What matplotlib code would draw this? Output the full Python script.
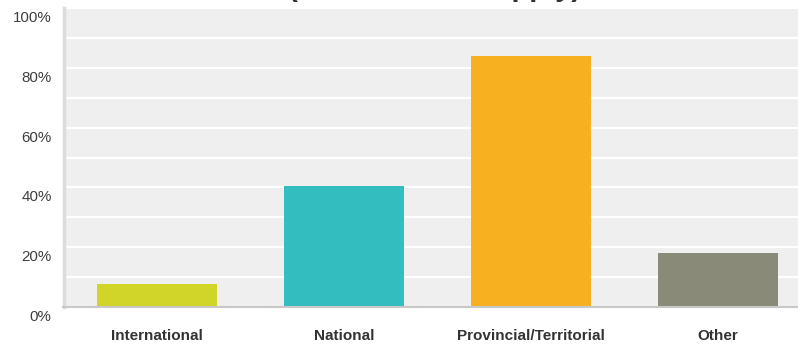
import matplotlib
matplotlib.use("Agg")
import matplotlib.pyplot as plt
import matplotlib.transforms as mtransforms
import numpy as np

categories = ["International", "National", "Provincial/Territorial", "Other"]
values = [7.7, 40.4, 83.8, 18.1]
colors = ["#D0D527", "#33BDBF", "#F6B020", "#8A8A78"]
yticks = [0, 20, 40, 60, 80, 100]
ytick_labels = ["0%", "20%", "40%", "60%", "80%", "100%"]
title = "(Check all that apply)"

plt.rcParams['font.family'] = ['Liberation Sans', 'DejaVu Sans']

fig = plt.figure(figsize=(7.98, 3.45), dpi=100)
ax = fig.add_axes([63.5 / 798, 38 / 345, 734.5 / 798, 299 / 345])
ax.set_facecolor("#EFEFEF")

x = np.arange(len(categories))
ax.bar(x, values, width=0.642, color=colors, zorder=3)

ax.set_xlim(-0.5, 3.428)
ax.set_ylim(0, 100)
ax.set_yticks(yticks)
ax.set_yticklabels(ytick_labels, fontsize=10.9, color="#3F3F3F")
ax.set_yticks(np.arange(10, 100, 20), minor=True)
ax.yaxis.grid(True, which="both", color="white", linewidth=1.6, zorder=1)
ax.set_axisbelow(True)
ax.tick_params(axis="y", which="both", length=0, pad=8.5)
offset = mtransforms.ScaledTranslation(0, -8.5 / 100, fig.dpi_scale_trans)
for lab in ax.get_yticklabels():
    lab.set_transform(lab.get_transform() + offset)

ax.set_xticks(x)
ax.set_xticklabels(categories, fontsize=11, fontweight="bold", color="#333333")
ax.tick_params(axis="x", length=0, pad=16)

for s in ["top", "right"]:
    ax.spines[s].set_visible(False)
ax.spines["left"].set_color("#DCDCDC")
ax.spines["left"].set_linewidth(2.5)
ax.spines["bottom"].set_color("#C8C8C8")
ax.spines["bottom"].set_linewidth(1.5)
ax.spines["bottom"].set_zorder(4)

fig.text(435 / 798, 1 + 4 / 345, title, ha="center", va="baseline",
         fontsize=21, fontweight="bold", color="#333333")

fig.savefig("out.png", dpi=100)
